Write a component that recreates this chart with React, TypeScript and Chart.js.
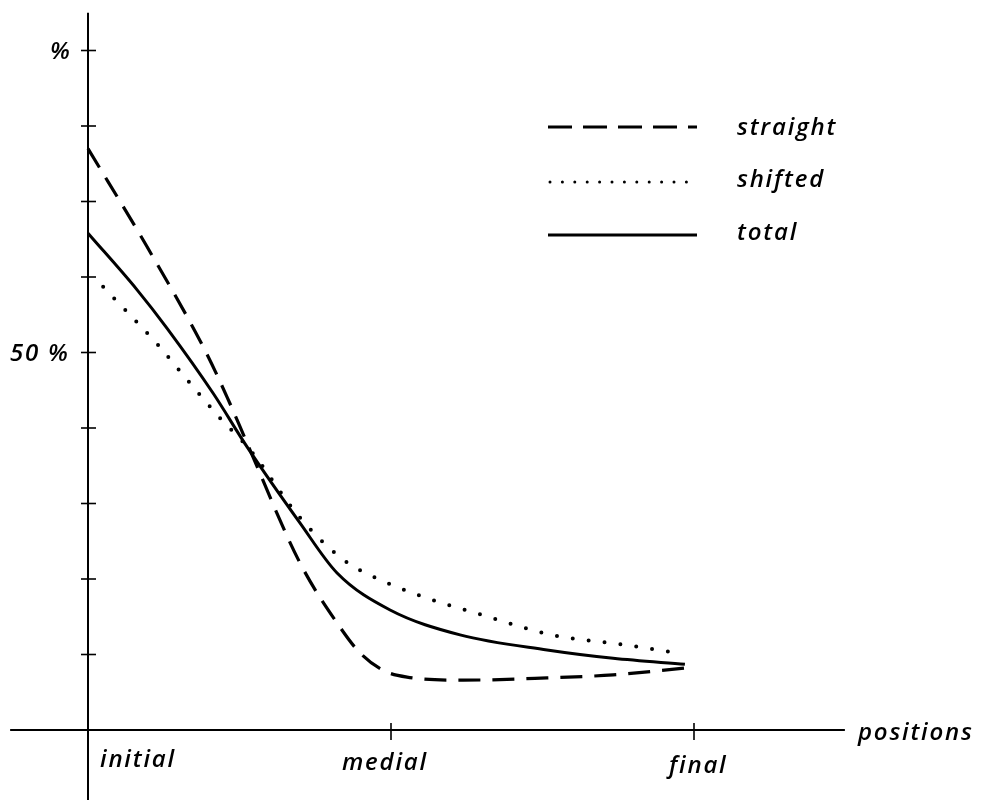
import React, { useEffect, useRef } from "react";
import { Chart, registerables } from "chart.js";

Chart.register(...registerables);

// Category positions on the x axis (initial, medial, final)
const categories = ["initial", "medial", "final"];
const categoryX = [0, 1, 2];
const axisTitle = "positions";

// y axis: tick every 10 %, labels only at 50 and 90
const yTicks = [10, 20, 30, 40, 50, 60, 70, 80, 90];
const yTickLabels: Record<number, string> = { 50: "50 %", 90: "%" };

// Series (x in position units, y in %)
const straightX = [0, 0.195, 0.386, 0.459, 0.525, 0.7, 0.832, 0.898, 0.974, 1.053, 1.238, 1.515, 1.733, 1.97];
const straightY = [77.0, 64.0, 50.3, 44.1, 38.0, 22.1, 13.6, 10.2, 7.9, 7.0, 6.6, 6.9, 7.3, 8.2];

const shiftedX = [0.05, 0.231, 0.304, 0.436, 0.535, 0.7, 0.845, 0.98, 1.139, 1.304, 1.531, 1.749, 1.964];
const shiftedY = [58.7, 51.0, 47.5, 41.3, 37.1, 28.1, 22.5, 19.6, 17.2, 15.2, 12.6, 11.4, 10.1];

const totalX = [0, 0.162, 0.261, 0.413, 0.525, 0.7, 0.822, 0.997, 1.228, 1.515, 1.733, 1.97];
const totalY = [65.8, 58.3, 53.2, 44.6, 37.5, 27.4, 20.8, 15.9, 12.6, 10.6, 9.5, 8.7];

const seriesNames = ["straight", "shifted", "total"];

const FONT = "italic 600 24px 'Open Sans', Lato, sans-serif";

const zip = (xs: number[], ys: number[]) => xs.map((x, i) => ({ x, y: ys[i] }));

const axesPlugin = {
  id: "handAxes",
  beforeDatasetsDraw(chart: any) {
    const { ctx, scales } = chart;
    const xs = scales.x;
    const ys = scales.y;
    const x0 = xs.getPixelForValue(0);
    const y0 = ys.getPixelForValue(0);
    ctx.save();
    ctx.strokeStyle = "#000";
    ctx.fillStyle = "#000";
    ctx.lineWidth = 2;
    // y axis
    ctx.beginPath();
    ctx.moveTo(x0, ys.getPixelForValue(95));
    ctx.lineTo(x0, chart.height);
    ctx.stroke();
    // x axis
    ctx.beginPath();
    ctx.moveTo(xs.getPixelForValue(-0.257), y0);
    ctx.lineTo(xs.getPixelForValue(2.498), y0);
    ctx.stroke();
    // y ticks
    ctx.lineWidth = 1.6;
    yTicks.forEach((t) => {
      const py = ys.getPixelForValue(t);
      ctx.beginPath();
      ctx.moveTo(x0 - 7, py);
      ctx.lineTo(x0 + 8, py);
      ctx.stroke();
    });
    // x ticks (medial, final)
    categoryX.forEach((c) => {
      if (c === 0) return;
      const px = xs.getPixelForValue(c);
      ctx.beginPath();
      ctx.moveTo(px, y0 - 7);
      ctx.lineTo(px, y0 + 10);
      ctx.stroke();
    });
    // text
    ctx.font = FONT;
    try {
      ctx.letterSpacing = "1.8px";
    } catch (e) {}
    ctx.textBaseline = "alphabetic";
    ctx.textAlign = "left";
    ctx.fillText(yTickLabels[50], 10, ys.getPixelForValue(50) + 8);
    ctx.fillText(yTickLabels[90], 50, ys.getPixelForValue(90) + 8);
    // x labels
    const xLabelBase = [767, 770, 773];
    const xLabelLeft = [100, 342, 669];
    categories.forEach((lab, i) => {
      ctx.fillText(lab, xLabelLeft[i], xLabelBase[i]);
    });
    ctx.fillText(axisTitle, xs.getPixelForValue(2.541), y0 + 10);

    // legend
    const lx1 = 548;
    const lx2 = 697;
    const rows = [127, 182, 235];
    ctx.lineWidth = 3;
    ctx.setLineDash([24, 11]);
    ctx.lineCap = "butt";
    ctx.beginPath();
    ctx.moveTo(lx1, rows[0]);
    ctx.lineTo(lx2, rows[0]);
    ctx.stroke();
    ctx.setLineDash([0, 12.4]);
    ctx.lineCap = "round";
    ctx.beginPath();
    ctx.moveTo(lx1 + 2, rows[1]);
    ctx.lineTo(lx2, rows[1]);
    ctx.stroke();
    ctx.setLineDash([]);
    ctx.lineCap = "butt";
    ctx.beginPath();
    ctx.moveTo(lx1, rows[2]);
    ctx.lineTo(lx2, rows[2]);
    ctx.stroke();
    const textBase = [135, 187, 240];
    seriesNames.forEach((n, i) => {
      ctx.fillText(n, 737, textBase[i]);
    });
    ctx.restore();
  },
};

export default function App() {
  const ref = useRef<HTMLCanvasElement | null>(null);
  useEffect(() => {
    document.body.style.margin = "0";
    const canvas = ref.current!;
    const chart = new Chart(canvas, {
      type: "line",
      data: {
        datasets: [
          {
            label: seriesNames[0],
            data: zip(straightX, straightY),
            borderColor: "#000",
            borderWidth: 3.2,
            borderDash: [22, 12],
            pointRadius: 0,
            cubicInterpolationMode: "monotone",
            fill: false,
          },
          {
            label: seriesNames[1],
            data: zip(shiftedX, shiftedY),
            borderColor: "#000",
            borderWidth: 4,
            borderDash: [0, 16],
            borderCapStyle: "round",
            pointRadius: 0,
            cubicInterpolationMode: "monotone",
            fill: false,
          },
          {
            label: seriesNames[2],
            data: zip(totalX, totalY),
            borderColor: "#000",
            borderWidth: 3,
            pointRadius: 0,
            cubicInterpolationMode: "monotone",
            fill: false,
          },
        ],
      },
      options: {
        animation: false,
        responsive: false,
        layout: { padding: 0 },
        plugins: { legend: { display: false }, tooltip: { enabled: false } },
        scales: {
          x: { type: "linear", display: false, min: -88 / 303, max: (982 - 88) / 303 },
          y: { type: "linear", display: false, min: -70 / 7.55, max: 730 / 7.55 },
        },
      },
      plugins: [axesPlugin],
    } as any);
    return () => chart.destroy();
  }, []);
  return (
    <div style={{ width: 982, height: 800, background: "#fff" }}>
      <canvas ref={ref} width={982} height={800} style={{ display: "block" }} />
    </div>
  );
}
